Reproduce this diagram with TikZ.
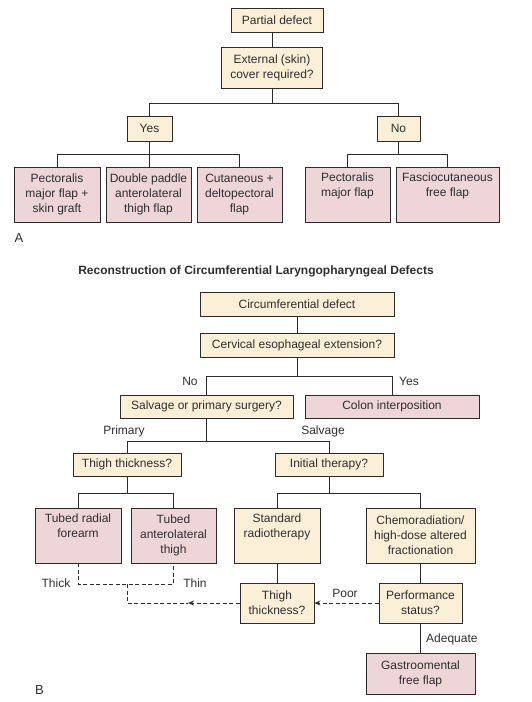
\documentclass[tikz,border=0pt]{standalone}
\usepackage{fontspec}
\setmainfont{Liberation Sans}
\usepackage{tikz}
\usetikzlibrary{arrows.meta,positioning,calc}
\usepackage{xcolor}
\definecolor{fcInk}{HTML}{2E2E2E}
\definecolor{fcLine}{HTML}{2B2B2B}
\definecolor{fcCream}{HTML}{FCEFD8}
\definecolor{fcPink}{HTML}{EDD5D8}
\newcommand{\fcfont}{\fontsize{12}{15}\selectfont}
\tikzset{
  qbox/.style={draw=fcLine, line width=0.9pt, fill=fcCream, text=fcInk, font=\fcfont, align=center, inner sep=2pt},
  abox/.style={qbox, fill=fcPink, minimum height=55pt},
  lbl/.style={text=fcInk, font=\fcfont, inner sep=1pt},
  tag/.style={text=fcInk, font=\fontsize{13}{15}\selectfont, inner sep=1pt},
  ttl/.style={text=fcInk, font=\bfseries\fontsize{12}{14}\selectfont, inner sep=1pt},
  ln/.style={draw=fcLine, line width=0.9pt},
  dsh/.style={ln, dash pattern=on 4pt off 2.5pt},
  arr/.style={-{Stealth[length=6pt,width=5pt]}},
}

\begin{document}
\begin{tikzpicture}[x=1pt, y=-1pt]
  \useasboundingbox (0,0) rectangle (532,702);
  % A: partial defects
  \node[qbox, minimum width=92pt, minimum height=24pt] (pd) at (277,20) {Partial defect};
  \node[qbox, minimum width=101pt, minimum height=41pt] (ext) at (272,67.5) {External (skin)\\cover required?};
  \node[qbox, minimum width=45pt, minimum height=25pt] (yes) at (149.5,128.5) {Yes};
  \node[qbox, minimum width=43pt, minimum height=25pt] (no) at (398.5,128.5) {No};
  \node[abox, minimum width=86pt] (pmg) at (57,194.5) {Pectoralis\\major flap +\\skin graft};
  \node[abox, minimum width=85pt] (dpa) at (148.5,194.5) {Double paddle\\anterolateral\\thigh flap};
  \node[abox, minimum width=85pt] (cdp) at (239.5,194.5) {Cutaneous +\\deltopectoral\\flap};
  \node[abox, minimum width=85pt] (pmf) at (347.5,194.5) {Pectoralis\\major flap\\\strut};
  \node[abox, minimum width=103pt] (fcf) at (447.5,194.5) {Fasciocutaneous\\free flap\\\strut};
  \node[tag] (labA) at (19,238) {A};
  \draw[ln] (ext.north) -- (ext.north |- pd.south);
  \draw[ln] (ext.south) -- ++(0,15) coordinate (jA);
  \draw[ln] (yes.north) |- (jA) -| (no.north);
  \draw[ln] (yes.south) -- ++(0,13) coordinate (jY);
  \draw[ln] (pmg.north) |- (jY) -| (cdp.north);
  \draw[ln] (jY) -- (jY |- dpa.north);
  \draw[ln] (no.south) -- ++(0,13) coordinate (jN);
  \draw[ln] (pmf.north) |- (jN) -| (fcf.north);
  % B: circumferential defects
  \node[ttl] (title) at (256,271) {Reconstruction of Circumferential Laryngopharyngeal Defects};
  \node[qbox, minimum width=194pt, minimum height=24pt] (cdef) at (297,304) {Circumferential defect};
  \node[qbox, minimum width=194pt, minimum height=24pt] (cee) at (297,345) {Cervical esophageal extension?};
  \node[qbox, minimum width=173pt, minimum height=23pt] (sps) at (206.5,406.5) {Salvage or primary surgery?};
  \node[abox, minimum width=174pt, minimum height=23pt] (coi) at (392,406.5) {Colon interposition};
  \node[qbox, minimum width=108pt, minimum height=23pt] (tt1) at (127,464.5) {Thigh thickness?};
  \node[qbox, minimum width=108pt, minimum height=23pt] (ith) at (329,464.5) {Initial therapy?};
  \node[abox, minimum width=86pt] (trf) at (78,535.5) {Tubed radial\\forearm\\\strut};
  \node[abox, minimum width=85pt] (tat) at (173.5,535.5) {Tubed\\anterolateral\\thigh};
  \node[qbox, minimum width=86pt, minimum height=55pt] (srt) at (277,535.5) {Standard\\radiotherapy\\\strut};
  \node[qbox, minimum width=109pt, minimum height=55pt] (chr) at (420.5,535.5) {Chemoradiation/\\high-dose altered\\fractionation};
  \node[qbox, minimum width=74pt, minimum height=40pt] (tt2) at (277,603) {Thigh\\thickness?};
  \node[qbox, minimum width=83pt, minimum height=40pt] (pst) at (420.5,603) {Performance\\status?};
  \node[abox, minimum width=109pt, minimum height=41pt] (gof) at (420.5,673.5) {Gastroomental\\free flap};
  \node[lbl] (lno) at (190,381) {No};
  \node[lbl] (lyes) at (409,381) {Yes};
  \node[lbl] (lprim) at (124,431) {Primary};
  \node[lbl] (lsalv) at (323,431) {Salvage};
  \node[lbl] (lthick) at (56,583) {Thick};
  \node[lbl] (lthin) at (195,583) {Thin};
  \node[lbl] (lpoor) at (345,593) {Poor};
  \node[lbl, anchor=west] (ladeq) at (425,639) {Adequate};
  \node[tag] (labB) at (39.5,690.5) {B};
  \draw[ln] (cdef) -- (cee);
  \draw[ln] (cee.south) -- ++(0,19) coordinate (jC);
  \draw[ln] (sps.north) |- (jC) -| (coi.north);
  \draw[ln] (sps.south) -- ++(0,23) coordinate (jS);
  \draw[ln] (tt1.north) |- (jS) -| (ith.north);
  \draw[ln] (tt1.south) -- ++(0,17) coordinate (jT);
  \draw[ln] (trf.north) |- (jT) -| (tat.north);
  \draw[ln] (ith.south) -- ++(0,17) coordinate (jI);
  \draw[ln] (srt.north) |- (jI) -| (chr.north);
  \foreach \a/\b in {srt/tt2, chr/pst, pst/gof} \draw[ln] (\a) -- (\b);
  \draw[dsh, arr] (pst) -- (tt2);
  % dashed return path, arrowhead halfway
  \coordinate (jK) at (127,584);
  \coordinate (mid) at (188,603);
  \draw[dsh] (trf.south) |- (jK) -| (tat.south);
  \draw[dsh] (jK) |- (mid);
  \draw[dsh, arr] (tt2.west) -- (mid);
\end{tikzpicture}
\end{document}
